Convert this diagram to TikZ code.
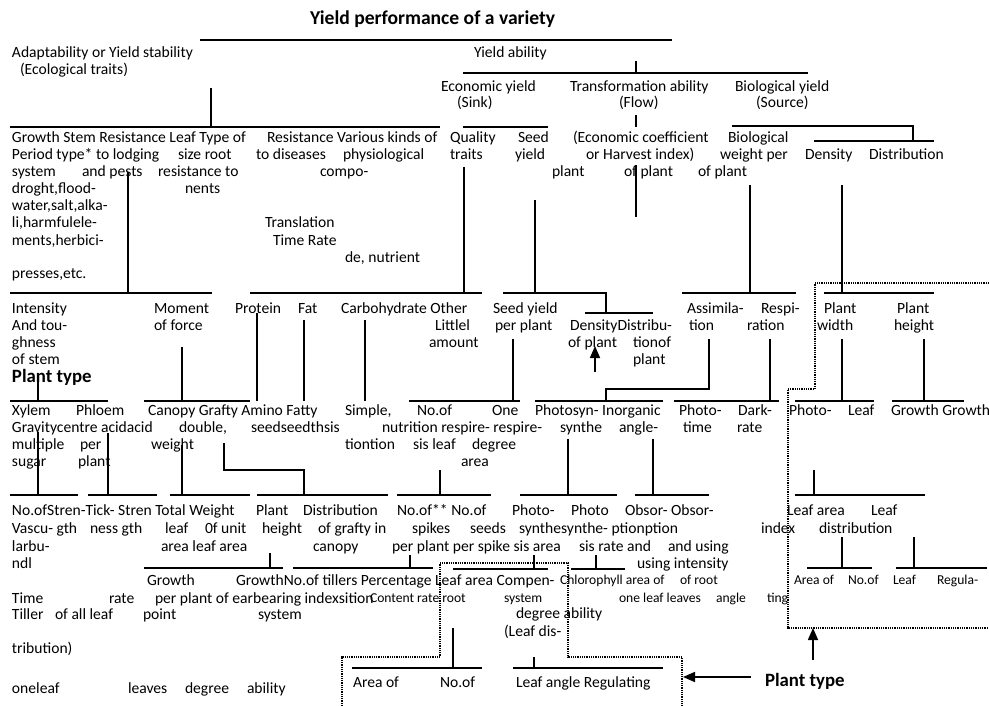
\documentclass[tikz,border=0pt]{standalone}
\usepackage{fontspec}
\setmainfont{Carlito}
\usetikzlibrary{arrows.meta}
\newcounter{tn}
\tikzset{
  txt/.style={inner sep=0pt,outer sep=0pt,anchor=base west,font=\fontsize{15.6}{17}\selectfont},
  smalltxt/.style={txt,font=\fontsize{13.6}{15}\selectfont},
  boldtxt/.style={txt,font=\bfseries\fontsize{18.8}{20}\selectfont},
  titletxt/.style={txt,font=\bfseries\fontsize{19.6}{22}\selectfont},
  ln/.style={line width=1.4pt},
  dln/.style={line width=1.1pt,dash pattern=on 1pt off 0.8pt},
  arr/.style={line width=1.6pt,-{Triangle[length=12pt,width=10pt]}}
}
\newcommand\T[3]{\stepcounter{tn}\node[txt] (t\arabic{tn}) at (#1,#2+5) {#3};}
\newcommand\Ts[3]{\stepcounter{tn}\node[smalltxt] (t\arabic{tn}) at (#1,#2+4) {#3};}
\begin{document}
\begin{tikzpicture}[x=1pt,y=-1pt]
\useasboundingbox (0,0) rectangle (989,706);
\clip (0,0) rectangle (989,706);
\fill[white] (0,0) rectangle (989,706);
% title
\node[titletxt] (title) at (310,25) {Yield performance of a variety};
% row 1
\T{12}{53}{Adaptability or Yield stability}
\T{20}{70}{(Ecological traits)}
\T{474}{53}{Yield ability}
% row 2
\T{441}{87}{Economic yield}
\T{457}{103}{(Sink)}
\T{570}{87}{Transformation ability}
\T{619}{103}{(Flow)}
\T{735}{87}{Biological yield}
\T{756}{103}{(Source)}
% row 3
\T{12}{138}{Growth Stem Resistance Leaf Type of}
\T{267}{138}{Resistance Various kinds of}
\T{450}{138}{Quality}
\T{518}{138}{Seed}
\T{573}{138}{(Economic coefficient}
\T{728}{138}{Biological}
\T{12}{155}{Period type* to lodging}
\T{178}{155}{size root}
\T{256}{155}{to diseases}
\T{343}{155}{physiological}
\T{450}{155}{traits}
\T{515}{155}{yield}
\T{586}{155}{or Harvest index)}
\T{720}{155}{weight per}
\T{805}{155}{Density}
\T{869}{155}{Distribution}
\T{12}{172}{system}
\T{82}{172}{and pests}
\T{158}{172}{resistance to}
\T{320}{172}{compo-}
\T{552}{172}{plant}
\T{624}{172}{of plant}
\T{698}{172}{of plant}
\T{12}{189}{droght,flood-}
\T{185}{189}{nents}
\T{12}{206}{water,salt,alka-}
\T{12}{223}{li,harmfulele-}
\T{265}{223}{Translation}
\T{12}{240}{ments,herbici-}
\T{273}{240}{Time Rate}
\T{345}{257}{de, nutrient}
\T{12}{274}{presses,etc.}
% row 4
\T{12}{308}{Intensity}
\T{154}{308}{Moment}
\T{235}{308}{Protein}
\T{298}{308}{Fat}
\T{341}{308}{Carbohydrate Other}
\T{493}{308}{Seed yield}
\T{687}{308}{Assimila-}
\T{761}{308}{Respi-}
\T{824}{308}{Plant}
\T{897}{308}{Plant}
\T{12}{325}{And tou-}
\T{154}{325}{of force}
\T{435}{325}{Littlel}
\T{495}{325}{per plant}
\T{570}{325}{DensityDistribu-}
\T{689}{325}{tion}
\T{747}{325}{ration}
\T{817}{325}{width}
\T{894}{325}{height}
\T{12}{342}{ghness}
\T{429}{342}{amount}
\T{568}{342}{of plant}
\T{633}{342}{tionof}
\T{12}{359}{of stem}
\T{633}{359}{plant}
\node[boldtxt] (pt1) at (12,382) {Plant type};
% row 5
\T{12}{410}{Xylem}
\T{76}{410}{Phloem}
\T{148}{410}{Canopy Grafty Amino Fatty}
\T{345}{410}{Simple,}
\T{417}{410}{No.of}
\T{492}{410}{One}
\T{535}{410}{Photosyn- Inorganic}
\T{679}{410}{Photo-}
\T{738}{410}{Dark-}
\T{789}{410}{Photo-}
\T{848}{410}{Leaf}
\T{891}{410}{Growth Growth}
\T{12}{427}{Gravitycentre acidacid}
\T{179}{427}{double,}
\T{251}{427}{seedseedthsis}
\T{382}{427}{nutrition respire- respire-}
\T{560}{427}{synthe}
\T{619}{427}{angle-}
\T{683}{427}{time}
\T{737}{427}{rate}
\T{12}{444}{multiple}
\T{80}{444}{per}
\T{151}{444}{weight}
\T{345}{444}{tiontion}
\T{413}{444}{sis leaf}
\T{472}{444}{degree}
\T{12}{461}{sugar}
\T{78}{461}{plant}
\T{461}{461}{area}
% row 6
\T{12}{510}{No.ofStren-Tick- Stren Total Weight}
\T{256}{510}{Plant}
\T{303}{510}{Distribution}
\T{397}{510}{No.of** No.of}
\T{512}{510}{Photo-}
\T{571}{510}{Photo}
\T{625}{510}{Obsor- Obsor-}
\T{787}{510}{Leaf area}
\T{871}{510}{Leaf}
\T{12}{528}{Vascu- gth}
\T{90}{528}{ness gth}
\T{165}{528}{leaf}
\T{205}{528}{0f unit}
\T{262}{528}{height}
\T{318}{528}{of grafty in}
\T{412}{528}{spikes}
\T{470}{528}{seeds}
\T{519}{528}{synthesynthe- ptionption}
\T{761}{528}{index}
\T{819}{528}{distribution}
\T{12}{546}{larbu-}
\T{161}{546}{area leaf area}
\T{313}{546}{canopy}
\T{392}{546}{per plant per spike sis area}
\T{579}{546}{sis rate and}
\T{668}{546}{and using}
\T{12}{563}{ndl}
\T{637}{563}{using intensity}
% row 7
\T{147}{580}{Growth}
\T{236}{580}{GrowthNo.of tillers Percentage Leaf area Compen-}
\Ts{560}{580}{Chlorophyll area of}
\Ts{680}{580}{of root}
\Ts{794}{580}{Area of}
\Ts{848}{580}{No.of}
\Ts{893}{580}{Leaf}
\Ts{937}{580}{Regula-}
\T{12}{598}{Time}
\T{109}{598}{rate}
\T{155}{598}{per plant of earbearing indexsition}
\Ts{370}{598}{Content rate root}
\Ts{504}{598}{system}
\Ts{619}{598}{one leaf leaves}
\Ts{716}{598}{angle}
\Ts{767}{598}{ting}
\T{12}{614}{Tiller}
\T{55}{614}{of all leaf}
\T{143}{614}{point}
\T{258}{614}{system}
\T{516}{613}{degree ability}
\T{504}{631}{(Leaf dis-}
\T{12}{648}{tribution)}
\T{353}{682}{Area of}
\T{440}{682}{No.of}
\T{516}{682}{Leaf angle Regulating}
\T{12}{688}{oneleaf}
\T{128}{688}{leaves}
\T{185}{688}{degree}
\T{247}{688}{ability}
\node[boldtxt] (pt2) at (765,686) {Plant type};
% solid lines
\draw[ln] (200,40)--(672,40);
\draw[ln] (636,61)--(636,73) (463,73)--(808,73);
\draw[ln] (211,88)--(211,127) (10,127)--(440,127) (463,127)--(548,127);
\draw[ln] (636,115)--(636,127);
\draw[ln] (732,126)--(913,126)--(913,141) (814,141)--(934,141);
\draw[ln] (636,165)--(636,217);
\draw[ln] (128,172)--(128,293) (10,293)--(212,293);
\draw[ln] (464,167)--(464,293) (250,293)--(482,293);
\draw[ln] (535,200)--(535,293) (503,293)--(606,293)--(606,313) (585,313)--(653,313);
\draw[ln] (750,185)--(750,293) (682,293)--(796,293);
\draw[ln] (842,185)--(842,293) (824,293)--(934,293);
% row 4 lines
\draw[ln] (38,378)--(38,401) (10,401)--(108,401);
\draw[ln] (182,347)--(182,401) (144,401)--(250,401);
\draw[ln] (257,313)--(257,401);
\draw[ln] (304,320)--(304,401);
\draw[ln] (365,320)--(365,401);
\draw[ln] (513,339)--(513,401) (409,401)--(520,401);
\draw[ln] (709,339)--(709,389)--(606,389)--(606,401) (535,401)--(663,401);
\draw[ln] (770,339)--(770,401) (674,401)--(779,401);
\draw[ln] (842,339)--(842,401) (795,401)--(874,401);
\draw[ln] (924,339)--(924,401) (892,401)--(964,401);
% row 5 lines
\draw[ln] (38,432)--(38,495) (10,495)--(78,495);
\draw[ln] (108,433)--(108,495) (88,495)--(157,495);
\draw[ln] (182,445)--(182,495) (170,495)--(250,495);
\draw[ln] (224,443)--(224,470)--(304,470)--(304,495) (257,495)--(388,495);
\draw[ln] (440,470)--(440,495) (397,495)--(491,495);
\draw[ln] (568,439)--(568,495) (520,495)--(617,495);
\draw[ln] (653,439)--(653,495) (635,495)--(709,495);
\draw[ln] (814,470)--(814,495) (795,495)--(925,495);
% row 6 lines
\draw[ln] (270,553)--(270,568) (144,568)--(283,568);
\draw[ln] (410,555)--(410,568) (293,568)--(433,568);
\draw[ln] (534,555)--(534,569) (453,569)--(548,569);
\draw[ln] (596,555)--(596,569) (571,569)--(625,569);
\draw[ln] (842,537)--(842,568) (807,568)--(872,568);
\draw[ln] (914,537)--(914,568) (896,568)--(987,568);
% row 7 lines
\draw[ln] (453,628)--(453,668) (352,668)--(482,668);
\draw[ln] (534,657)--(534,668) (513,668)--(663,668);
% dotted frames
\draw[dln] (989,283)--(815,283)--(815,389)--(788,389)--(788,628)--(989,628);
\draw[dln] (342,706)--(342,657)--(440,657)--(440,563)--(568,563)--(568,657)--(682,657)--(682,706);
% arrows
\coordinate (a1s) at (595,372); \coordinate (a1e) at (595,346);
\draw[arr] (a1s)--(a1e);
\coordinate (a2e) at (683,677);
\draw[arr] (pt2.west|-a2e) ++(-14,0) -- (a2e);
\coordinate (a3s) at (813,660); \coordinate (a3e) at (813,628);
\draw[arr] (a3s)--(a3e);
\end{tikzpicture}
\end{document}
